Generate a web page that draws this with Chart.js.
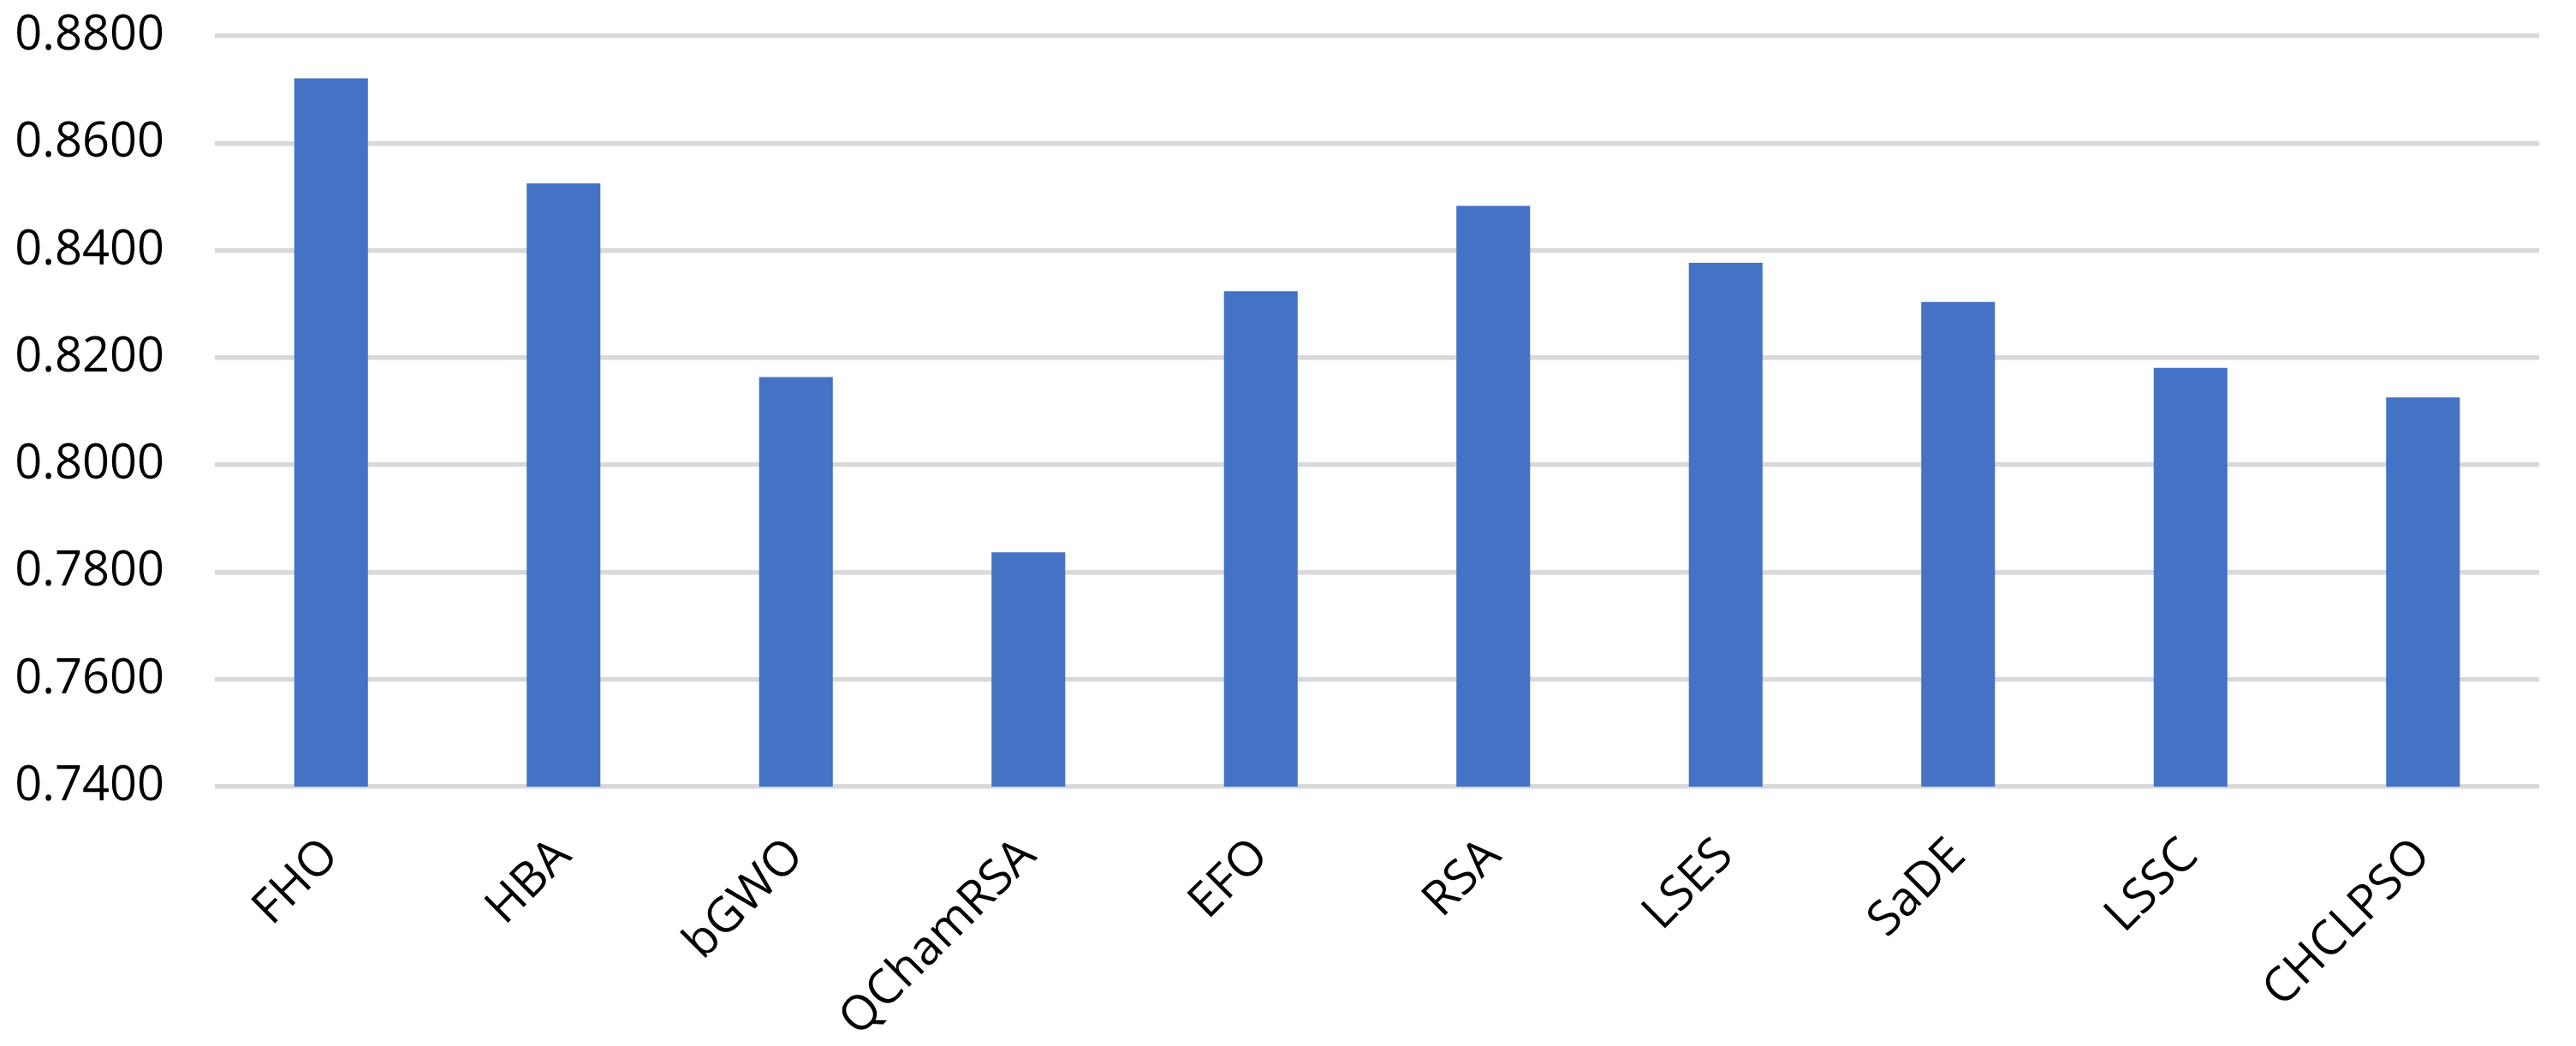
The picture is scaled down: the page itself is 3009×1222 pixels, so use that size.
<!DOCTYPE html>
<html>
<head>
<meta charset="utf-8">
<script src="https://cdn.jsdelivr.net/npm/chart.js@4/dist/chart.umd.min.js"></script>
<style>
  html, body { margin: 0; padding: 0; background: #ffffff; }
  #wrap { width: 3009px; height: 1222px; position: relative; }
</style>
</head>
<body>
<div id="wrap"><canvas id="c" width="3009" height="1222"></canvas></div>
<script>
const categories = ["FHO", "HBA", "bGWO", "QChamRSA", "EFO", "RSA", "LSES", "SaDE", "LSSC", "CHCLPSO"];
const values = [0.8721, 0.8525, 0.8164, 0.7837, 0.8324, 0.8483, 0.8377, 0.8304, 0.8181, 0.8126];
const yMin = 0.74;
const yMax = 0.88;
const yStep = 0.02;

const FONT = "'Open Sans', 'Liberation Sans', sans-serif";

new Chart(document.getElementById('c'), {
  type: 'bar',
  data: {
    labels: categories,
    datasets: [{
      data: values,
      backgroundColor: '#4472C4',
      borderWidth: 0,
      categoryPercentage: 1.0,
      barPercentage: 0.317
    }]
  },
  options: {
    responsive: false,
    animation: false,
    devicePixelRatio: 1,
    layout: { padding: { top: 42, right: 43, bottom: 0, left: 0 } },
    plugins: { legend: { display: false }, tooltip: { enabled: false } },
    scales: {
      x: {
        grid: { display: false, drawTicks: false },
        border: { display: false },
        ticks: {
          minRotation: 45,
          maxRotation: 45,
          autoSkip: false,
          padding: 48,
          color: '#000000',
          font: { family: FONT, size: 56 }
        },
        afterFit: (s) => { s.height = 303; s.paddingLeft = 0; s.paddingRight = 0; }
      },
      y: {
        min: yMin,
        max: yMax,
        grid: { color: '#D9D9D9', lineWidth: 5.5, drawTicks: false },
        border: { display: false },
        ticks: {
          stepSize: yStep,
          padding: 59,
          color: '#000000',
          font: { family: FONT, size: 56 },
          callback: (v) => Number(v).toFixed(4)
        },
        afterFit: (s) => { s.width = 251; s.paddingTop = 0; s.paddingBottom = 0; }
      }
    }
  }
});
</script>
</body>
</html>
